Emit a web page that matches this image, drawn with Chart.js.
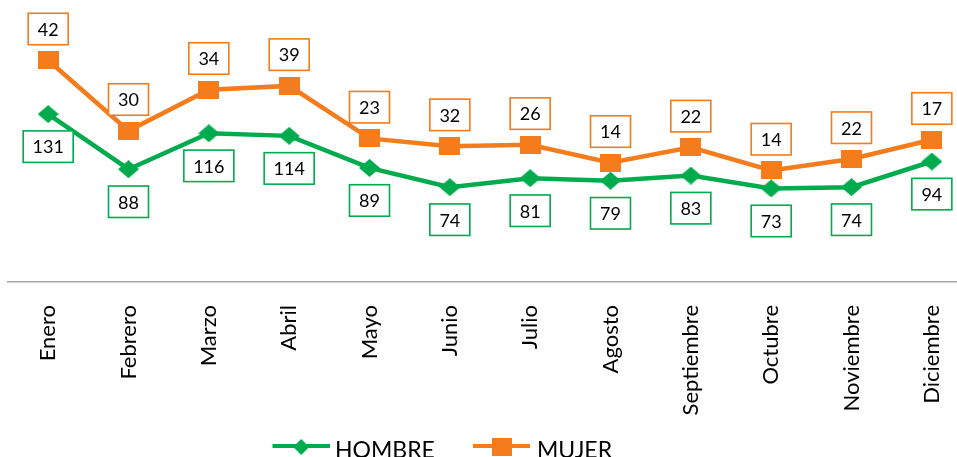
<!DOCTYPE html>
<html>
<head>
<meta charset="utf-8">
<script src="https://cdn.jsdelivr.net/npm/chart.js@4"></script>
<style>
  html, body { margin: 0; padding: 0; background: #fff; overflow: hidden; }
  #wrap { width: 972px; height: 457px; position: relative; }
</style>
</head>
<body>
<div id="wrap"><canvas id="c" width="972" height="457"></canvas></div>
<script>
// ---- data ----
const months = ['Enero','Febrero','Marzo','Abril','Mayo','Junio','Julio','Agosto','Septiembre','Octubre','Noviembre','Diciembre'];
const hombre = [131, 88, 116, 114, 89, 74, 81, 79, 83, 73, 74, 94];
const mujer  = [42, 30, 34, 39, 23, 32, 26, 14, 22, 14, 22, 17];
const seriesNames = ['HOMBRE', 'MUJER'];

// ---- styles ----
const GREEN = '#00AB4E';
const ORANGE = '#F47C1C';

function makeMarker(shape, w, h, color) {
  const c = document.createElement('canvas');
  c.width = w; c.height = h;
  const ctx = c.getContext('2d');
  ctx.fillStyle = color;
  if (shape === 'diamond') {
    ctx.beginPath();
    ctx.moveTo(w / 2, 0); ctx.lineTo(w, h / 2); ctx.lineTo(w / 2, h); ctx.lineTo(0, h / 2);
    ctx.closePath(); ctx.fill();
  } else {
    ctx.fillRect(0, 0, w, h);
  }
  return c;
}
const diamondImg = makeMarker('diamond', 21, 18, GREEN);
const squareImg = makeMarker('square', 21, 18, ORANGE);
const legendDiamond = makeMarker('diamond', 16, 16, GREEN);
const legendSquare = makeMarker('square', 20, 18, ORANGE);

const labelPlugin = {
  id: 'boxLabels',
  afterDatasetsDraw(chart) {
    const ctx = chart.ctx;
    ctx.save();
    ctx.font = '18px Lato';
    ctx.textAlign = 'center';
    ctx.textBaseline = 'middle';
    chart.data.datasets.forEach((ds, i) => {
      const meta = chart.getDatasetMeta(i);
      meta.data.forEach((pt, j) => {
        const txt = String(ds.data[j]);
        const tw = ctx.measureText(txt).width;
        const bw = Math.round(tw + 19);
        const bh = 31.5;
        const x = pt.x;
        let top;
        if (i === 1) top = pt.y - 15.5 - bh; else top = pt.y + 16.8;
        ctx.fillStyle = '#fff';
        ctx.fillRect(x - bw / 2, top, bw, bh);
        ctx.lineWidth = 1.6;
        ctx.strokeStyle = ds.borderColor;
        ctx.strokeRect(x - bw / 2, top, bw, bh);
        ctx.fillStyle = '#000';
        ctx.fillText(txt, x, top + bh / 2 + 1);
      });
    });
    ctx.restore();
  },
  afterDraw(chart) {
    const ctx = chart.ctx;
    ctx.save();
    const items = [
      { name: chart.data.datasets[0].label, color: GREEN, img: legendDiamond, x0: 272.5, x1: 330, tx: 335 },
      { name: chart.data.datasets[1].label, color: ORANGE, img: legendSquare, x0: 473, x1: 530, tx: 537 }
    ];
    const ly = 446;
    items.forEach(it => {
      ctx.strokeStyle = it.color;
      ctx.lineWidth = 4;
      ctx.beginPath(); ctx.moveTo(it.x0, ly); ctx.lineTo(it.x1, ly); ctx.stroke();
      const cx = (it.x0 + it.x1) / 2;
      ctx.drawImage(it.img, cx - it.img.width / 2, ly + 1 - it.img.height / 2);
      ctx.fillStyle = '#000';
      ctx.font = '23px Lato';
      ctx.textAlign = 'left';
      ctx.textBaseline = 'alphabetic';
      ctx.fillText(it.name, it.tx, 458);
    });
    ctx.restore();
  }
};

new Chart(document.getElementById('c'), {
  type: 'line',
  data: {
    labels: months,
    datasets: [
      {
        label: seriesNames[0], data: hombre,
        borderColor: GREEN, backgroundColor: GREEN, borderWidth: 4.5,
        pointStyle: diamondImg, pointRadius: 10, pointHoverRadius: 10,
        tension: 0, fill: false
      },
      {
        label: seriesNames[1], data: mujer,
        borderColor: ORANGE, backgroundColor: ORANGE, borderWidth: 4.5,
        pointStyle: squareImg, pointRadius: 10, pointHoverRadius: 10,
        tension: 0, fill: false
      }
    ]
  },
  options: {
    responsive: false,
    animation: false,
    devicePixelRatio: 1,
    layout: { autoPadding: false, padding: { left: 8, right: 0, top: 0, bottom: 0 } },
    plugins: { legend: { display: false }, tooltip: { enabled: false } },
    scales: {
      x: {
        offset: true,
        grid: { display: false },
        border: { display: true, color: '#A6A6A6', width: 1.5 },
        ticks: {
          minRotation: 90, maxRotation: 90, autoSkip: false,
          padding: 15,
          color: '#000',
          font: { family: 'Lato', size: 22 }
        },
        afterFit(scale) {
          scale.height = 175;
          scale.paddingLeft = 0;
          scale.paddingRight = 0;
        }
      },
      y: {
        display: false,
        stacked: true,
        min: 0, max: 220
      }
    }
  },
  plugins: [labelPlugin]
});
</script>
</body>
</html>
